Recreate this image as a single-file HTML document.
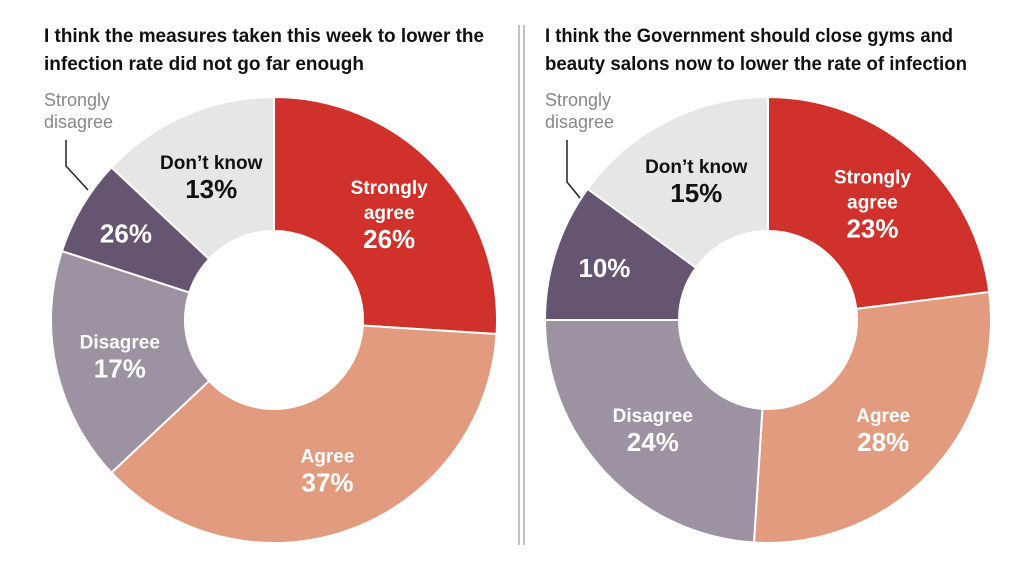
<!DOCTYPE html>
<html><head><meta charset="utf-8"><style>
body{margin:0;background:#fff;}
svg text{font-family:"Liberation Sans",sans-serif;font-weight:bold;}
svg text.co{font-weight:normal;}
</style></head><body>
<svg width="1030" height="580" viewBox="0 0 1030 580">
<text x="44" y="42" font-size="19" fill="#111" textLength="440" lengthAdjust="spacingAndGlyphs">I think the measures taken this week to lower the</text>
<text x="44" y="70" font-size="19" fill="#111" textLength="320" lengthAdjust="spacingAndGlyphs">infection rate did not go far enough</text>
<text x="545" y="42" font-size="19" fill="#111" textLength="408" lengthAdjust="spacingAndGlyphs">I think the Government should close gyms and</text>
<text x="545" y="70" font-size="19" fill="#111" textLength="422" lengthAdjust="spacingAndGlyphs">beauty salons now to lower the rate of infection</text>
<line x1="519" y1="25" x2="519" y2="545" stroke="#999" stroke-width="1.2"/>
<line x1="524" y1="25" x2="524" y2="545" stroke="#999" stroke-width="1.2"/>
<g id="left"></g>
<g id="right"></g>
<text class="co" x="44" y="106" font-size="18" fill="#888">Strongly</text>
<text class="co" x="44" y="128" font-size="18" fill="#888">disagree</text>
<polyline points="66,140 66,166 88,190" fill="none" stroke="#222" stroke-width="1.5"/>
<text class="co" x="545" y="106" font-size="18" fill="#888">Strongly</text>
<text class="co" x="545" y="128" font-size="18" fill="#888">disagree</text>
<polyline points="567,140 567,182 580,198" fill="none" stroke="#222" stroke-width="1.5"/>
</svg>
<script>
const categories=["Strongly agree","Agree","Disagree","Strongly disagree","Don't know"];
const leftValues=[26,37,17,7,13];
const leftPrinted=["26%","37%","17%","26%","13%"];
const rightValues=[23,28,24,10,15];
const rightPrinted=["23%","28%","24%","10%","15%"];
const colors=["#d0312a","#e39b80","#9c92a2","#655570","#e6e6e6"];
const textColors=["#fff","#fff","#fff","#fff","#111"];
const NS="http://www.w3.org/2000/svg";
function pt(cx,cy,r,a){return [cx+r*Math.sin(a),cy-r*Math.cos(a)];}
function draw(gid,cx,cy,values,printed,side){
  const g=document.getElementById(gid);
  const R=223,r0=89,total=values.reduce((a,b)=>a+b,0);
  let acc=0;
  values.forEach((v,i)=>{
    const a0=acc/total*2*Math.PI;acc+=v;const a1=acc/total*2*Math.PI;
    const large=(a1-a0)>Math.PI?1:0;
    const p0=pt(cx,cy,R,a0),p1=pt(cx,cy,R,a1),q1=pt(cx,cy,r0,a1),q0=pt(cx,cy,r0,a0);
    const p=document.createElementNS(NS,"path");
    p.setAttribute("d",`M${p0}A${R},${R} 0 ${large} 1 ${p1}L${q1}A${r0},${r0} 0 ${large} 0 ${q0}Z`);
    p.setAttribute("fill",colors[i]);p.setAttribute("stroke","#fff");p.setAttribute("stroke-width","2");
    
    
    g.appendChild(p);
    const am=(a0+a1)/2;const lr=(i===3)?172:158;
    const [lx,ly]=pt(cx,cy,lr,am);
    const lines=[];
    if(i===0){lines.push(["Strongly",19]);lines.push(["agree",19]);}
    else if(i===1||i===2){lines.push([categories[i],19]);}
    else if(i===4){lines.push(["Don\u2019t know",19]);}
    lines.push([printed[i],26]);
    const h=lines.length*24;
    lines.forEach((l,k)=>{
      const t=document.createElementNS(NS,"text");
      t.setAttribute("x",lx);t.setAttribute("y",ly-h/2+k*25+(l[1]>20?22:18));
      t.setAttribute("text-anchor","middle");t.setAttribute("font-size",l[1]);
      t.setAttribute("fill",textColors[i]);t.textContent=l[0];
      
      
      g.appendChild(t);
    });
  });
}
draw("left",274,320,leftValues,leftPrinted,"left");
draw("right",768,320,rightValues,rightPrinted,"right");
</script>
</body></html>
